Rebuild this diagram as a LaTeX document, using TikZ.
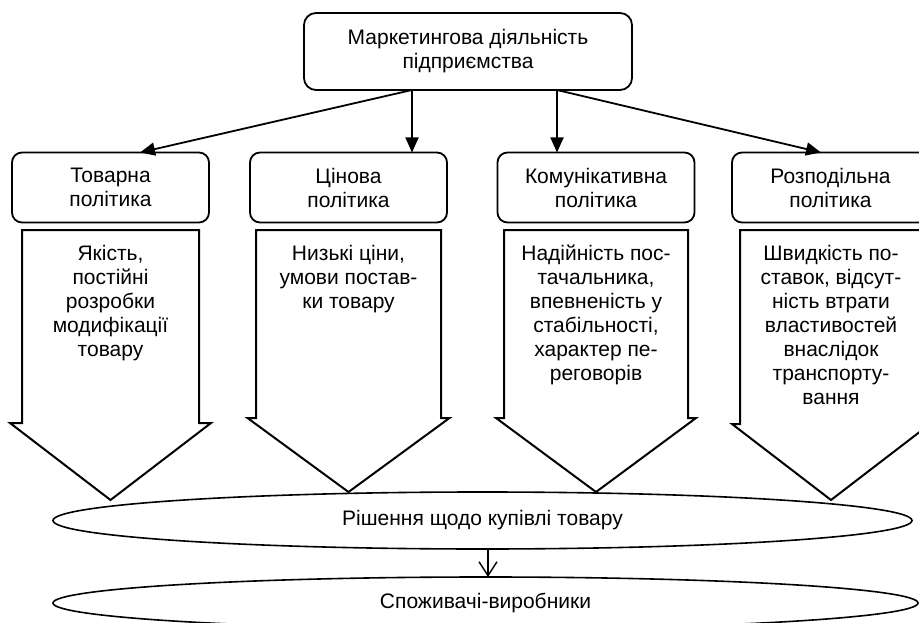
\documentclass[tikz,border=0pt]{standalone}
\usepackage{fontspec}
\setmainfont{Liberation Sans}
\usetikzlibrary{arrows.meta}
\usetikzlibrary{shapes.geometric}
\tikzstyle{box}=[draw, line width=1.8pt, rounded corners=12pt, inner sep=0, outer sep=0, align=center]
\tikzstyle{mainbox}=[box, minimum width=328pt, minimum height=77pt]
\tikzstyle{policy}=[box, rounded corners=10pt, minimum width=197pt, minimum height=70pt]
\tikzstyle{blockarrow}=[draw, line width=2pt, line join=miter]
\tikzstyle{arrowtext}=[inner sep=0, outer sep=0, align=center, anchor=north,
                       execute at begin node=\strut]
\tikzstyle{outcome}=[draw, ellipse, line width=1.6pt, inner sep=0, outer sep=0]
\tikzstyle{link}=[line width=1.8pt, -{Triangle[length=15pt,width=13pt]}]
\tikzstyle{smalllink}=[line width=1.4pt, -{Straight Barb[length=14pt,width=18pt]}]
% centre x, half shaft, half head, shaft bottom, tip
\newcommand{\policyarrow}[5]{%
  \draw[blockarrow] (#1-#2,230) -- (#1+#2,230) -- (#1+#2,#4) -- (#1+#3,#4)
    -- (#1,#5) -- (#1-#3,#4) -- (#1-#2,#4) -- cycle;}

\begin{document}
\begin{tikzpicture}[x=1pt, y=-1pt,
                    every node/.style={font=\fontsize{21}{24}\selectfont}]
    \useasboundingbox (0,0) rectangle (919,623);
    \clip (0,0) rectangle (919,623);

    \node[mainbox] (mkt) at (468,51.5) {Маркетингова діяльність\\підприємства};

    \node[policy] (tov) at (110.5,187.5) {Товарна\\політика};
    \node[policy] (cin) at (348.5,187.5) {Цінова\\політика};
    \node[policy] (kom) at (596,187.5) {Комунікативна\\політика};
    \node[policy] (roz) at (830.5,187.5) {Розподільна\\політика};

    \draw[link] ([xshift=-56pt]mkt.south) -- ([xshift=29.5pt]tov.north);
    \draw[link] ([xshift=-56pt]mkt.south) -- ([xshift=-56pt]mkt.south |- cin.north);
    \draw[link] ([xshift=89pt]mkt.south) -- ([xshift=89pt]mkt.south |- kom.north);
    \draw[link] ([xshift=89pt]mkt.south) -- ([xshift=-9.5pt]roz.north);

    \policyarrow{110.5}{88.5}{100.5}{423}{500}
    \policyarrow{348.5}{92.5}{101}{418}{492}
    \policyarrow{596}{92}{100}{418}{492}
    \policyarrow{831}{91}{99}{424}{500}

    \node[arrowtext] (tovtext) at (110.5,245) {Якість,\\постійні\\розробки\\модифікації\\товару};
    \node[arrowtext] (cintext) at (348.5,245) {Низькі ціни,\\умови постав-\\ки товару};
    \node[arrowtext] (komtext) at (596,245) {Надійність пос-\\тачальника,\\впевненість у\\стабільності,\\характер пе-\\реговорів};
    \node[arrowtext] (roztext) at (831,245) {Швидкість по-\\ставок, відсут-\\ність втрати\\властивостей\\внаслідок\\транспорту-\\вання};

    \node[outcome, minimum width=859pt, minimum height=57pt] (decision) at (482.5,520.5) {Рішення щодо купівлі товару};
    \node[outcome, minimum width=865pt, minimum height=52pt] (consumers) at (485.5,603) {Споживачі-виробники};

    \draw[smalllink] ([xshift=5.5pt]decision.south) -- ([xshift=2.5pt]consumers.north);
\end{tikzpicture}
\end{document}
